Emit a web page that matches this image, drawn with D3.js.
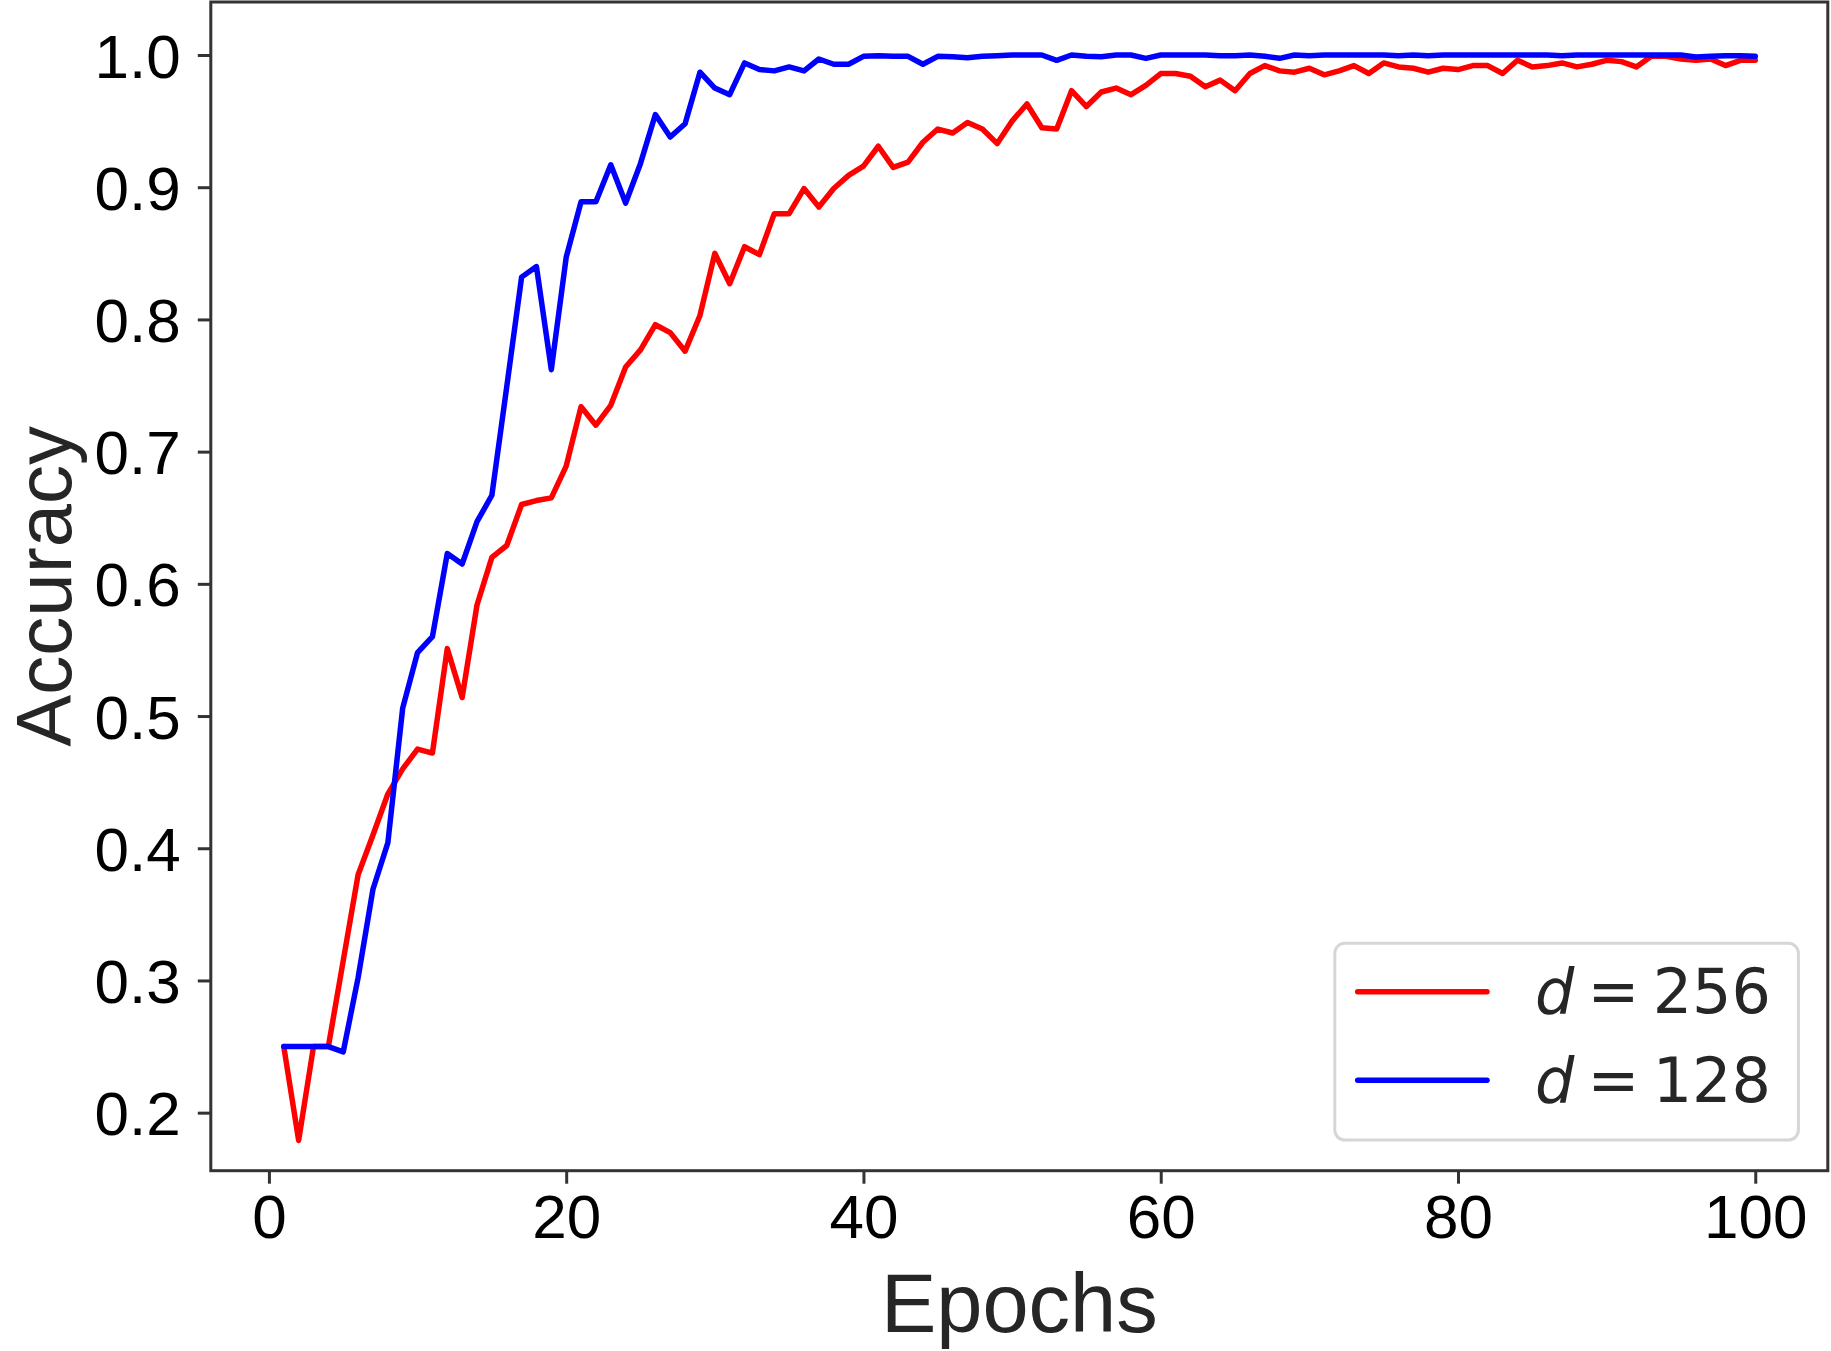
<!DOCTYPE html>
<html>
<head>
<meta charset="utf-8">
<title>Accuracy vs Epochs</title>
<script src="https://d3js.org/d3.v7.min.js"></script>
<style>
body { margin: 0; background: #fff; }
.tick text { font-family: "Liberation Sans", Arial, sans-serif; font-size: 62px; fill: #000; }
.tick line { stroke: #333; stroke-width: 3; }
.lbl { font-family: "Liberation Sans", Arial, sans-serif; font-size: 83px; fill: #262626; }
.leg { font-family: "DejaVu Sans", sans-serif; font-size: 62px; fill: #262626; }
</style>
</head>
<body>
<div id="chart"></div>
<script>
// accuracy per epoch
var epochs = d3.range(1, 101);
var acc256 = [0.250,0.179,0.250,0.250,0.315,0.380,0.410,0.441,0.460,0.475,
  0.472,0.551,0.514,0.584,0.620,0.629,0.660,0.663,0.665,0.689,
  0.734,0.720,0.735,0.764,0.777,0.796,0.790,0.776,0.803,0.850,
  0.827,0.855,0.849,0.880,0.880,0.899,0.885,0.899,0.909,0.916,
  0.931,0.915,0.919,0.934,0.944,0.941,0.949,0.944,0.933,0.950,
  0.963,0.945,0.944,0.973,0.961,0.972,0.975,0.970,0.977,0.986,
  0.986,0.984,0.976,0.981,0.973,0.986,0.992,0.988,0.987,0.990,
  0.985,0.988,0.992,0.986,0.994,0.991,0.990,0.987,0.990,0.989,
  0.992,0.992,0.986,0.996,0.991,0.992,0.994,0.991,0.993,0.996,
  0.995,0.991,0.999,0.999,0.997,0.996,0.997,0.992,0.996,0.996];
var acc128 = [0.250,0.250,0.250,0.250,0.246,0.302,0.369,0.404,0.506,0.548,
  0.560,0.623,0.615,0.647,0.667,0.749,0.832,0.840,0.762,0.847,
  0.889,0.889,0.917,0.888,0.918,0.955,0.938,0.948,0.987,0.975,
  0.970,0.994,0.989,0.988,0.991,0.988,0.997,0.993,0.993,0.999,
  0.9995,0.999,0.999,0.993,0.999,0.9987,0.998,0.999,0.9995,1.0,
  1.0,1.0,0.996,1.0,0.999,0.9987,1.0,1.0,0.9975,1.0,
  1.0,1.0,1.0,0.9995,0.9995,1.0,0.999,0.9975,1.0,0.9995,
  1.0,1.0,1.0,1.0,1.0,0.9995,1.0,0.9995,1.0,1.0,
  1.0,1.0,1.0,1.0,1.0,1.0,0.9995,1.0,1.0,1.0,
  1.0,1.0,1.0,1.0,1.0,0.9985,0.999,0.9995,0.9995,0.999];
var xTicks = [0, 20, 40, 60, 80, 100];
var yTicks = [0.2, 0.3, 0.4, 0.5, 0.6, 0.7, 0.8, 0.9, 1.0];
var series = [
  {name: "256", values: acc256, color: "#ff0000"},
  {name: "128", values: acc128, color: "#0000ff"}
];

var W = 1831, H = 1351;
var L = 210.8, R = 1827.8, T = 2, B = 1170.7;

var svg = d3.select("#chart").append("svg")
  .attr("width", W)
  .attr("height", H);

var x = d3.scaleLinear().domain([-3.91, 104.88]).range([L, R]);
var y = d3.scaleLinear().domain([0.1561, 1.0401]).range([B, T]);

var xAxis = svg.append("g")
  .attr("transform", "translate(0," + B + ")")
  .call(d3.axisBottom(x).tickValues(xTicks).tickSize(13).tickFormat(d3.format("d")));
xAxis.select(".domain").remove();
xAxis.selectAll(".tick text").attr("y", 67.6).attr("dy", 0);

var yAxis = svg.append("g")
  .attr("transform", "translate(" + L + ",0)")
  .call(d3.axisLeft(y).tickValues(yTicks).tickSize(13).tickPadding(17).tickFormat(d3.format(".1f")));
yAxis.select(".domain").remove();
yAxis.selectAll(".tick text").attr("dy", 0).attr("y", 22);

var line = d3.line()
  .x((d, i) => x(epochs[i]))
  .y(d => y(d));

svg.selectAll("path.series").data(series).enter()
  .append("path")
    .attr("class", "series")
    .attr("d", d => line(d.values))
    .attr("fill", "none")
    .attr("stroke", d => d.color)
    .attr("stroke-width", 5.5)
    .attr("stroke-linejoin", "round")
    .attr("stroke-linecap", "round");

// frame
svg.append("rect")
  .attr("x", L).attr("y", T)
  .attr("width", R - L).attr("height", B - T)
  .attr("fill", "none")
  .attr("stroke", "#333")
  .attr("stroke-width", 3);

svg.append("text")
  .attr("class", "lbl")
  .attr("x", (L + R) / 2)
  .attr("y", 1332)
  .attr("text-anchor", "middle")
  .text("Epochs");

svg.append("text")
  .attr("class", "lbl")
  .attr("transform", "translate(71," + ((T + B) / 2) + ") rotate(-90)")
  .attr("text-anchor", "middle")
  .style("font-size", "78px")
  .text("Accuracy");

// legend
var leg = svg.append("g");
leg.append("rect")
  .attr("x", 1334.8).attr("y", 943.3)
  .attr("width", 463.6).attr("height", 196.7)
  .attr("rx", 10).attr("ry", 10)
  .attr("fill", "#fff").attr("fill-opacity", 0.8)
  .attr("stroke", "#d6d6d6").attr("stroke-width", 3);

var rows = leg.selectAll("g.row").data(series).enter()
  .append("g")
    .attr("class", "row")
    .attr("transform", (d, i) => "translate(0," + (991.7 + i * 88.6) + ")");
rows.append("line")
  .attr("x1", 1357.7).attr("x2", 1487)
  .attr("stroke", d => d.color)
  .attr("stroke-width", 5.5)
  .attr("stroke-linecap", "round");
rows.append("text")
  .attr("class", "leg")
  .attr("x", 1535).attr("y", 21.5)
  .attr("font-style", "italic")
  .text("d");
rows.append("text")
  .attr("class", "leg")
  .attr("x", 1613.5).attr("y", 21.5)
  .attr("text-anchor", "middle")
  .text("=");
rows.append("text")
  .attr("class", "leg")
  .attr("x", 1771).attr("y", 21.5)
  .attr("text-anchor", "end")
  .text(d => d.name);
</script>
</body>
</html>
